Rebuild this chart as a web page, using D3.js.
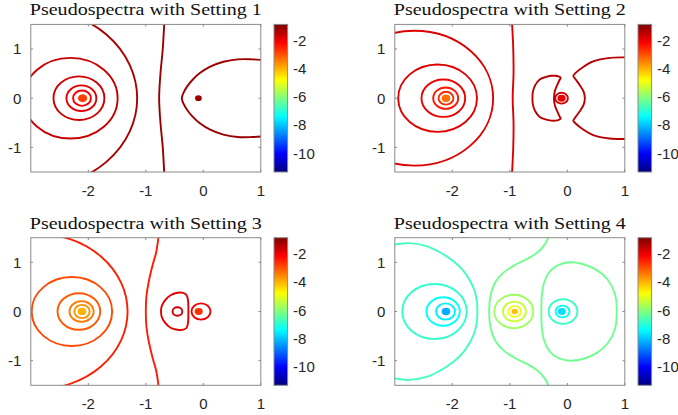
<!DOCTYPE html>
<html lang="en">
<head>
<meta charset="UTF-8">
<title>Pseudospectra</title>
<script src="https://d3js.org/d3.v7.min.js"></script>
<style>
  body { margin: 0; background: #fff; }
  svg { display: block; }
  .tick-label { font-family: "Liberation Sans", Arial, sans-serif; font-size: 15px; fill: #262626; }
  .title { font-family: "Liberation Serif", "Times New Roman", serif; font-size: 17.5px; fill: #111; }
</style>
</head>
<body>
<div id="chart"></div>
<script>
// ---- data ----
const titles = ["Pseudospectra with Setting 1", "Pseudospectra with Setting 2",
                "Pseudospectra with Setting 3", "Pseudospectra with Setting 4"];
const xTicks = [-2, -1, 0, 1];
const yTicks = [-1, 0, 1];
const cbTicks = [-10, -8, -6, -4, -2];
const xDomain = [-3, 1];
const yDomain = [-1.5, 1.5];
const cLimits = [-11.32, -0.86];

// rings: [level, centre x, radius] (centred on the real axis)
const rings1 = [[-1.30, -2.98, 1.83], [-1.62, -2.31, 0.82], [-1.68, -2.163, 0.443],
                [-1.85, -2.12, 0.26], [-2.10, -2.11, 0.155]];
const rings2 = [[-1.82, -2.66, 1.37], [-1.85, -2.256, 0.685], [-1.95, -2.156, 0.38],
                [-2.40, -2.115, 0.217], [-2.60, -2.11, 0.13], [-1.75, -0.10, 0.11]];
const rings3 = [[-2.47, -2.898, 1.581], [-2.90, -2.285, 0.70], [-3.08, -2.164, 0.371],
                [-3.40, -2.117, 0.21], [-3.64, -2.11, 0.134], [-1.65, -0.45, 0.085],
                [-2.01, -0.04, 0.165]];
const rings4 = [[-6.90, -2.31, 0.56], [-7.40, -2.16, 0.29], [-7.55, -2.118, 0.165],
                [-5.78, -0.93, 0.34], [-5.36, -0.92, 0.20], [-4.94, -0.915, 0.11],
                [-6.80, -0.075, 0.25], [-7.30, -0.084, 0.12]];

// filled eigenvalue blobs: [level, centre x, radius]
const dots1 = [[-2.82, -2.10, 0.08], [-1.15, -0.085, 0.058]];
const dots2 = [[-3.32, -2.11, 0.075], [-1.95, -0.10, 0.07]];
const dots3 = [[-4.00, -2.11, 0.075], [-2.66, -0.08, 0.07]];
const dots4 = [[-8.21, -2.11, 0.075], [-4.13, -0.915, 0.055], [-7.71, -0.095, 0.07]];

// free-form contour lines: level, closed?, points [x, y]
const curves1 = [
  { level: -1.15, closed: false, pts: [[-0.675, 1.6], [-0.68, 1.5], [-0.705, 1.0], [-0.745, 0.5], [-0.768, 0],
      [-0.745, -0.5], [-0.705, -1.0], [-0.68, -1.5], [-0.675, -1.6]] },
  { level: -1.15, closed: false, pts: [[1.1, 0.77], [0.85, 0.79], [0.6, 0.79], [0.35, 0.74], [0.12, 0.64],
      [-0.06, 0.51], [-0.19, 0.37], [-0.28, 0.24], [-0.34, 0.12], [-0.374, 0], [-0.34, -0.12],
      [-0.28, -0.24], [-0.19, -0.37], [-0.06, -0.51], [0.12, -0.64], [0.35, -0.74], [0.6, -0.79],
      [0.85, -0.79], [1.1, -0.77]] }
];
const curves2 = [
  { level: -1.82, closed: false, pts: [[-0.965, 1.6], [-0.96, 1.5], [-0.94, 1.0], [-0.935, 0.5], [-0.95, 0],
      [-0.935, -0.5], [-0.94, -1.0], [-0.96, -1.5], [-0.965, -1.6]] },
  { level: -1.45, closed: true, pts: [[-0.115, 0.415], [-0.15, 0.44], [-0.2, 0.455], [-0.28, 0.455],
      [-0.38, 0.43], [-0.48, 0.38], [-0.56, 0.26], [-0.60, 0.12], [-0.606, 0], [-0.60, -0.12],
      [-0.56, -0.26], [-0.48, -0.38], [-0.38, -0.43], [-0.28, -0.455], [-0.2, -0.455], [-0.15, -0.44],
      [-0.115, -0.415], [-0.135, -0.37], [-0.17, -0.28], [-0.215, -0.15], [-0.232, 0],
      [-0.215, 0.15], [-0.17, 0.28], [-0.135, 0.37]] },
  { level: -1.45, closed: false, pts: [[1.1, 0.83], [1.0, 0.83], [0.74, 0.82], [0.45, 0.75], [0.27, 0.63],
      [0.15, 0.52], [0.105, 0.455], [0.14, 0.39], [0.22, 0.26], [0.285, 0.13], [0.305, 0], [0.285, -0.13],
      [0.22, -0.26], [0.14, -0.39], [0.105, -0.455], [0.15, -0.52], [0.27, -0.63], [0.45, -0.75],
      [0.74, -0.82], [1.0, -0.83], [1.1, -0.83]] }
];
const curves3 = [
  { level: -2.47, closed: false, pts: [[-0.77, 1.6], [-0.78, 1.5], [-0.82, 1.2], [-0.88, 0.95], [-0.95, 0.6],
      [-0.99, 0.3], [-1.0, 0], [-0.99, -0.3], [-0.95, -0.6], [-0.88, -0.95], [-0.82, -1.2],
      [-0.78, -1.5], [-0.77, -1.6]] },
  { level: -1.85, closed: true, pts: [[-0.26, 0], [-0.265, 0.22], [-0.29, 0.33], [-0.35, 0.38], [-0.45, 0.38],
      [-0.57, 0.33], [-0.67, 0.22], [-0.725, 0.1], [-0.735, 0], [-0.725, -0.1], [-0.67, -0.22],
      [-0.57, -0.33], [-0.45, -0.37], [-0.35, -0.37], [-0.29, -0.33], [-0.265, -0.22]] }
];
const curves4 = [
  { level: -6.74, closed: false, pts: [[-3.1, 1.35], [-3.0, 1.36], [-2.75, 1.39], [-2.45, 1.33], [-2.21, 1.2],
      [-1.98, 1.02], [-1.81, 0.83], [-1.68, 0.6], [-1.605, 0.39], [-1.57, 0.18], [-1.565, 0],
      [-1.57, -0.18], [-1.605, -0.39], [-1.68, -0.6], [-1.81, -0.83], [-1.98, -1.02], [-2.21, -1.2],
      [-2.45, -1.33], [-2.75, -1.39], [-3.0, -1.36], [-3.1, -1.35]] },
  { level: -6.25, closed: false, pts: [[-0.30, 1.6], [-0.33, 1.5], [-0.40, 1.35], [-0.52, 1.2], [-0.68, 1.08],
      [-0.90, 0.95], [-1.10, 0.80], [-1.25, 0.6], [-1.33, 0.35], [-1.36, 0], [-1.33, -0.35],
      [-1.25, -0.6], [-1.10, -0.80], [-0.90, -0.95], [-0.68, -1.08], [-0.52, -1.2], [-0.40, -1.35],
      [-0.33, -1.5], [-0.30, -1.6]] },
  { level: -6.25, closed: true, pts: [[0.86, 0], [0.83, 0.35], [0.70, 0.65], [0.50, 0.85], [0.25, 0.97],
      [0.05, 1.0], [-0.15, 0.95], [-0.30, 0.82], [-0.40, 0.60], [-0.445, 0.30], [-0.45, 0],
      [-0.445, -0.30], [-0.40, -0.60], [-0.30, -0.82], [-0.15, -0.95], [0.05, -1.0], [0.25, -0.97],
      [0.50, -0.85], [0.70, -0.65], [0.83, -0.35]] }
];

const panels = [
  { title: titles[0], rings: rings1, dots: dots1, curves: curves1 },
  { title: titles[1], rings: rings2, dots: dots2, curves: curves2 },
  { title: titles[2], rings: rings3, dots: dots3, curves: curves3 },
  { title: titles[3], rings: rings4, dots: dots4, curves: curves4 }
];

// ---- layout ----
const width = 678, height = 415;
const plotW = 230, plotH = 147.6;
const origins = [[30.8, 24.4], [394.8, 24.4], [30.8, 237.7], [394.8, 237.7]];
const cbGap = 13.2, cbW = 13.6;
const boxColor = "#8a8a8a";
const lineW = 1.9;

// jet colormap
const jet = d3.scaleLinear()
  .domain([0, 0.125, 0.375, 0.625, 0.875, 1])
  .range(["#00007f", "#0000ff", "#00ffff", "#ffff00", "#ff0000", "#7f0000"])
  .clamp(true);
const levelToT = d3.scaleLinear().domain(cLimits).range([0, 1]);
const colour = v => jet(levelToT(v));

const svg = d3.select("#chart").append("svg")
  .attr("width", width)
  .attr("height", height);
svg.append("rect").attr("width", width).attr("height", height).attr("fill", "#fff");

const defs = svg.append("defs");
const grad = defs.append("linearGradient")
  .attr("id", "jetGrad")
  .attr("x1", 0).attr("y1", 1).attr("x2", 0).attr("y2", 0);
d3.range(0, 1.0001, 0.02).forEach(t => {
  grad.append("stop").attr("offset", t).attr("stop-color", jet(t));
});

panels.forEach((p, i) => {
  const [ox, oy] = origins[i];
  const x = d3.scaleLinear().domain(xDomain).range([ox, ox + plotW]);
  const y = d3.scaleLinear().domain(yDomain).range([oy + plotH, oy]);
  const g = svg.append("g");

  defs.append("clipPath").attr("id", "clip" + i)
    .append("rect").attr("x", ox).attr("y", oy).attr("width", plotW).attr("height", plotH);

  const plot = g.append("g").attr("clip-path", `url(#clip${i})`);

  // contour rings
  plot.selectAll("ellipse.ring").data(p.rings).enter().append("ellipse")
    .attr("class", "ring")
    .attr("cx", d => x(d[1]))
    .attr("cy", y(0))
    .attr("rx", d => x(d[1] + d[2]) - x(d[1]))
    .attr("ry", d => y(0) - y(d[2]))
    .attr("fill", "none")
    .attr("stroke", d => colour(d[0]))
    .attr("stroke-width", lineW);

  // free-form contours
  plot.selectAll("path.curve").data(p.curves).enter().append("path")
    .attr("class", "curve")
    .attr("d", d => d3.line()
      .x(q => x(q[0]))
      .y(q => y(q[1]))
      .curve(d.closed ? d3.curveCatmullRomClosed.alpha(0.5) : d3.curveCatmullRom.alpha(0.5))(d.pts))
    .attr("fill", "none")
    .attr("stroke", d => colour(d.level))
    .attr("stroke-width", lineW);

  // eigenvalue blobs
  plot.selectAll("ellipse.dot").data(p.dots).enter().append("ellipse")
    .attr("class", "dot")
    .attr("cx", d => x(d[1]))
    .attr("cy", y(0))
    .attr("rx", d => x(d[1] + d[2]) - x(d[1]))
    .attr("ry", d => y(0) - y(d[2]))
    .attr("fill", d => colour(d[0]));

  // axes box + inward ticks
  g.append("rect")
    .attr("x", ox).attr("y", oy).attr("width", plotW).attr("height", plotH)
    .attr("fill", "none").attr("stroke", boxColor).attr("stroke-width", 1);

  const tl = 2.3;
  xTicks.forEach(t => {
    g.append("line").attr("x1", x(t)).attr("x2", x(t)).attr("y1", oy + plotH).attr("y2", oy + plotH - tl)
      .attr("stroke", boxColor);
    g.append("line").attr("x1", x(t)).attr("x2", x(t)).attr("y1", oy).attr("y2", oy + tl)
      .attr("stroke", boxColor);
  });
  yTicks.forEach(t => {
    g.append("line").attr("x1", ox).attr("x2", ox + tl).attr("y1", y(t)).attr("y2", y(t))
      .attr("stroke", boxColor);
    g.append("line").attr("x1", ox + plotW).attr("x2", ox + plotW - tl).attr("y1", y(t)).attr("y2", y(t))
      .attr("stroke", boxColor);
  });

  g.selectAll("text.xl").data(xTicks).enter().append("text")
    .attr("class", "tick-label xl")
    .attr("x", d => x(d)).attr("y", oy + plotH + 23.5)
    .attr("text-anchor", "middle")
    .text(d => d);
  g.selectAll("text.yl").data(yTicks).enter().append("text")
    .attr("class", "tick-label yl")
    .attr("x", ox - 9.5).attr("y", d => y(d) + 5.3)
    .attr("text-anchor", "end")
    .text(d => d);

  // title
  g.append("text")
    .attr("class", "title")
    .attr("x", ox + plotW / 2).attr("y", oy - 9)
    .attr("text-anchor", "middle")
    .attr("textLength", 232)
    .attr("lengthAdjust", "spacingAndGlyphs")
    .text(p.title);

  // colorbar
  const cbx = ox + plotW + cbGap;
  const cy = d3.scaleLinear().domain(cLimits).range([oy + plotH, oy]);
  g.append("rect")
    .attr("x", cbx).attr("y", oy).attr("width", cbW).attr("height", plotH)
    .attr("fill", "url(#jetGrad)")
    .attr("stroke", boxColor).attr("stroke-width", 1);
  g.selectAll("text.cl").data(cbTicks).enter().append("text")
    .attr("class", "tick-label cl")
    .attr("x", cbx + cbW + 5.5).attr("y", d => cy(d) + 5.3)
    .attr("text-anchor", "start")
    .text(d => d);
});
</script>
</body>
</html>
